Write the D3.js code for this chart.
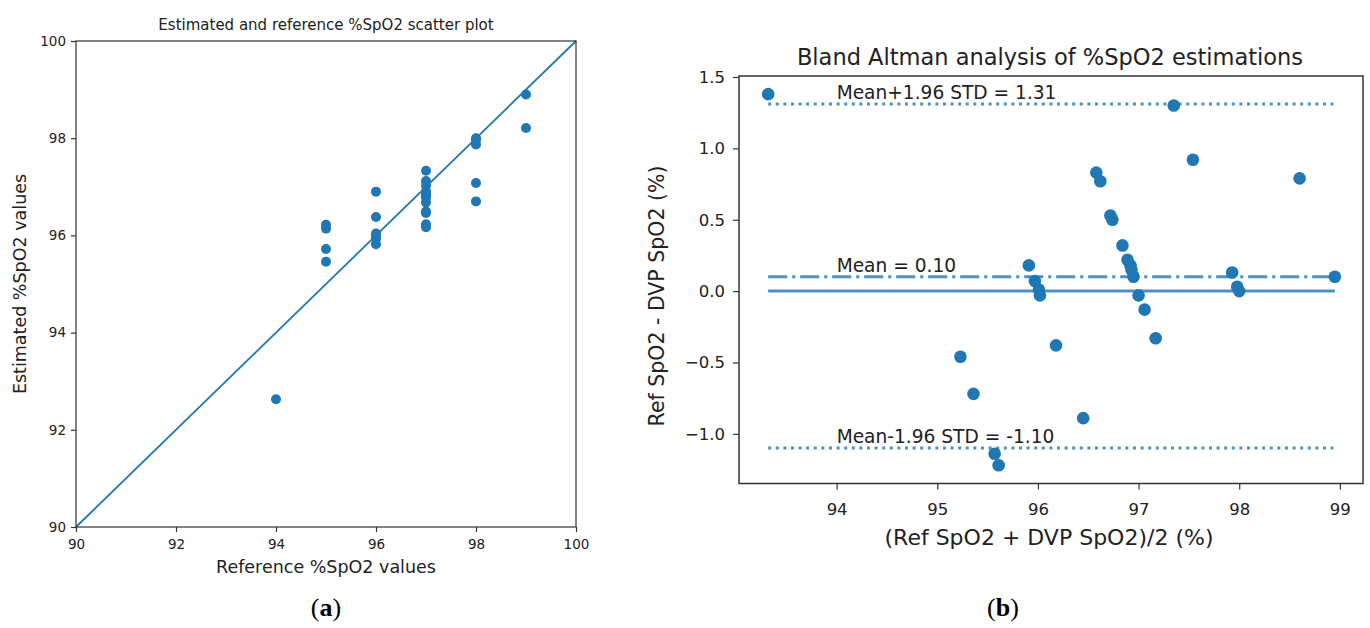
<!DOCTYPE html>
<html><head><meta charset="utf-8">
<script src="https://cdn.jsdelivr.net/npm/d3@7"></script>
<style>
html,body{margin:0;padding:0;background:#fff;}
svg{display:block;font-family:"DejaVu Sans",sans-serif;}
</style></head>
<body><svg id="c" width="1370" height="628"></svg>
<script>
// ---- data: panel (a) scatter ----
const refSpO2 = [94, 95, 95, 95, 95, 96, 96, 96, 96, 96, 96, 97, 97, 97, 97, 97, 97, 97, 97, 97, 97, 97, 97, 98, 98, 98, 98, 98, 99, 99];
const estSpO2 = [92.63, 95.46, 95.72, 96.14, 96.22, 95.82, 95.93, 96.0, 96.04, 96.38, 96.9, 96.17, 96.23, 96.46, 96.49, 96.68, 96.78, 96.83, 96.86, 96.9, 97.02, 97.12, 97.33, 96.7, 97.08, 97.87, 97.97, 98.0, 98.21, 98.9];
const scatterTicks = [90, 92, 94, 96, 98, 100];
// ---- data: panel (b) Bland-Altman ----
const baMean = [93.32, 95.23, 95.36, 95.57, 95.61, 95.91, 95.97, 96.01, 96.02, 96.18, 96.45, 96.58, 96.62, 96.72, 96.74, 96.84, 96.89, 96.92, 96.93, 96.95, 97.0, 97.06, 97.17, 97.35, 97.54, 97.93, 97.98, 98.0, 98.6, 98.95];
const baDiff = [1.38, -0.46, -0.72, -1.14, -1.22, 0.18, 0.07, 0.01, -0.03, -0.38, -0.89, 0.83, 0.77, 0.53, 0.50, 0.32, 0.22, 0.18, 0.15, 0.10, -0.03, -0.13, -0.33, 1.30, 0.92, 0.13, 0.03, 0.00, 0.79, 0.10];
const baXTicks = [94, 95, 96, 97, 98, 99];
const baYTicks = [-1.0, -0.5, 0.0, 0.5, 1.0, 1.5];
const meanDiff = 0.10, upperLoA = 1.31, lowerLoA = -1.10;
const annLabels = ["Mean+1.96 STD = 1.31", "Mean = 0.10", "Mean-1.96 STD = -1.10"];
const annValues = [upperLoA, meanDiff, lowerLoA];

const svg = d3.select("#c");
const blue = "#1f77b4", txt = "#222";

// ================= Panel (a) =================
const ax = d3.scaleLinear().domain([90, 100]).range([76, 576]);
const ay = d3.scaleLinear().domain([90, 100]).range([527, 41]);
const ga = svg.append("g");

ga.append("line").attr("x1", ax(90)).attr("y1", ay(90)).attr("x2", ax(100)).attr("y2", ay(100))
  .attr("stroke", blue).attr("stroke-width", 1.8);

ga.selectAll("circle.a").data(refSpO2.map((r, i) => [r, estSpO2[i]])).enter().append("circle")
  .attr("cx", d => ax(d[0])).attr("cy", d => ay(d[1])).attr("r", 5).attr("fill", blue);

ga.append("rect").attr("x", 76).attr("y", 41).attr("width", 500).attr("height", 486)
  .attr("fill", "none").attr("stroke", "#333").attr("stroke-width", 1.2);

function styleAxis(g, fs) {
  g.select(".domain").remove();
  g.selectAll(".tick line").attr("stroke", "#333").attr("stroke-width", 1.2);
  g.selectAll(".tick text").attr("fill", txt).attr("font-size", fs).attr("font-family", "DejaVu Sans");
}
const axB = ga.append("g").attr("transform", "translate(0,527)")
  .call(d3.axisBottom(ax).tickValues(scatterTicks).tickSize(5).tickPadding(7).tickFormat(d3.format("d")));
styleAxis(axB, 13.5);
const axL = ga.append("g").attr("transform", "translate(76,0)")
  .call(d3.axisLeft(ay).tickValues(scatterTicks).tickSize(5).tickPadding(5).tickFormat(d3.format("d")));
styleAxis(axL, 13.5);

ga.append("text").attr("x", 326).attr("y", 30).attr("text-anchor", "middle")
  .attr("font-size", 15).attr("fill", txt).text("Estimated and reference %SpO2 scatter plot");
ga.append("text").attr("x", 326).attr("y", 573).attr("text-anchor", "middle")
  .attr("font-size", 17.5).attr("fill", txt).text("Reference %SpO2 values");
ga.append("text").attr("transform", "translate(26,284) rotate(-90)").attr("text-anchor", "middle")
  .attr("font-size", 17.5).attr("fill", txt).text("Estimated %SpO2 values");

// ================= Panel (b) =================
const bx = d3.scaleLinear().domain([93.03, 99.23]).range([739, 1363]);
const by = d3.scaleLinear().domain([-1.348, 1.507]).range([483.5, 76]);
const gb = svg.append("g");
const xr = d3.extent(baMean);

function hline(v, dash, w) {
  gb.append("line").attr("x1", bx(xr[0])).attr("x2", bx(xr[1])).attr("y1", by(v)).attr("y2", by(v))
    .attr("stroke", blue).attr("stroke-opacity", 0.8).attr("stroke-width", w)
    .attr("stroke-dasharray", dash);
}
hline(upperLoA, "3,4.6", 3);
hline(lowerLoA, "3,4.6", 3);
hline(meanDiff, "19,5,3,5", 3);
hline(0, null, 3);

gb.selectAll("circle.b").data(baMean.map((m, i) => [m, baDiff[i]])).enter().append("circle")
  .attr("cx", d => bx(d[0])).attr("cy", d => by(d[1])).attr("r", 6.3).attr("fill", blue);

annLabels.forEach((t, i) => {
  gb.append("text").attr("x", bx(94)).attr("y", by(annValues[i] + 0.035))
    .attr("font-size", 18.6).attr("fill", txt).text(t);
});

gb.append("rect").attr("x", 739).attr("y", 76).attr("width", 624).attr("height", 407.5)
  .attr("fill", "none").attr("stroke", "#333").attr("stroke-width", 1.5);

const bxB = gb.append("g").attr("transform", "translate(0,483.5)")
  .call(d3.axisBottom(bx).tickValues(baXTicks).tickSize(6).tickPadding(14).tickFormat(d3.format("d")));
styleAxis(bxB, 16.5);
const byL = gb.append("g").attr("transform", "translate(739,0)")
  .call(d3.axisLeft(by).tickValues(baYTicks).tickSize(6).tickPadding(8).tickFormat(d3.format(".1f")));
styleAxis(byL, 16.5);

gb.append("text").attr("x", 1050).attr("y", 65).attr("text-anchor", "middle")
  .attr("font-size", 22.5).attr("fill", txt).text("Bland Altman analysis of %SpO2 estimations");
gb.append("text").attr("x", 1049).attr("y", 545).attr("text-anchor", "middle")
  .attr("font-size", 22).attr("fill", txt).text("(Ref SpO2 + DVP SpO2)/2 (%)");
gb.append("text").attr("transform", "translate(664,296) rotate(-90)").attr("text-anchor", "middle")
  .attr("font-size", 20.5).attr("fill", txt).text("Ref SpO2 - DVP SpO2 (%)");

// ---- sub-figure captions ----
function cap(x, letter) {
  const t = svg.append("text").attr("x", x).attr("y", 616).attr("text-anchor", "middle")
    .attr("font-family", "Liberation Serif, serif").attr("font-size", 26).attr("fill", "#000");
  t.append("tspan").text("(");
  t.append("tspan").attr("font-weight", "bold").text(letter);
  t.append("tspan").text(")");
}
cap(326, "a");
cap(1003, "b");
</script>
</body></html>
